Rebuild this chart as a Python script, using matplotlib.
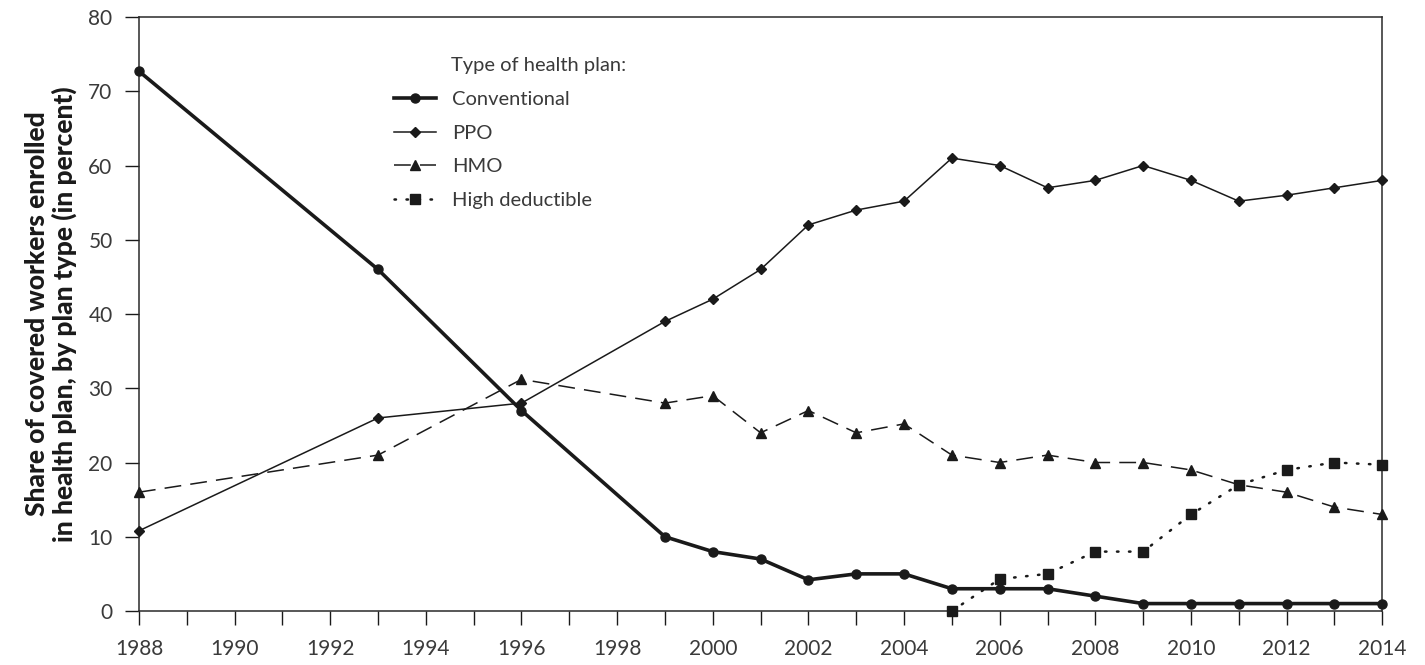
import numpy as np
import matplotlib.pyplot as plt

plt.rcParams['font.family'] = ['Lato', 'DejaVu Sans']

years = [1988, 1993, 1996, 1999, 2000, 2001, 2002, 2003, 2004, 2005,
         2006, 2007, 2008, 2009, 2010, 2011, 2012, 2013, 2014]
conventional = [72.7, 46, 27, 10, 8, 7, 4.2, 5, 5, 3, 3, 3, 2, 1, 1, 1, 1, 1, 1]
ppo = [10.8, 26, 28, 39, 42, 46, 52, 54, 55.2, 61, 60, 57, 58, 60, 58, 55.2, 56, 57, 58]
hmo = [16, 21, 31.2, 28, 29, 24, 27, 24, 25.2, 21, 20, 21, 20, 20, 19, 17, 16, 14, 13]
hd_years = [2005, 2006, 2007, 2008, 2009, 2010, 2011, 2012, 2013, 2014]
high_deductible = [0, 4.3, 5, 8, 8, 13, 17, 19, 20, 19.7]

fig = plt.figure(figsize=(14.25, 6.65), dpi=100)
ax = fig.add_axes([0.0975, 0.0812, 0.8725, 0.8932])

ax.plot(years, conventional, '-', color='#1a1a1a', lw=2.6, marker='o', ms=6.5,
        label='Conventional', clip_on=False, zorder=5)
ax.plot(years, ppo, '-', color='#1a1a1a', lw=1.1, marker='D', ms=5.5,
        label='PPO', clip_on=False, zorder=4)
ax.plot(years, hmo, color='#1a1a1a', lw=1.1, dashes=(11, 6), marker='^', ms=7.5,
        label='HMO', clip_on=False, zorder=4)
ax.plot(hd_years, high_deductible, color='#1a1a1a', lw=1.8, dashes=(0.6, 4.2),
        dash_capstyle='round', marker='s', ms=7, label='High deductible',
        clip_on=False, zorder=6)

ax.set_xlim(1988, 2014)
ax.set_ylim(0, 80)
ax.set_xticks(np.arange(1988, 2015, 2))
ax.set_xticks(np.arange(1988, 2015, 1), minor=True)
ax.set_yticks(np.arange(0, 81, 10))
ax.tick_params(axis='both', which='both', direction='out', length=10, width=1,
               color='#1a1a1a', labelsize=15, labelcolor='#3a3a3a')
ax.tick_params(axis='x', pad=10)
ax.tick_params(axis='y', pad=9)
for s in ax.spines.values():
    s.set_color('#2a2a2a')
    s.set_linewidth(1.1)

ax.set_ylabel('Share of covered workers enrolled\nin health plan, by plan type (in percent)',
              fontsize=19, fontweight='black', color='#1a1a1a', labelpad=8,
              linespacing=1.15)

leg = ax.legend(loc='upper left', bbox_to_anchor=(0.199, 0.889), frameon=False,
                fontsize=14.5, handlelength=2.05, handletextpad=0.8,
                labelspacing=0.82, labelcolor='#3a3a3a', borderaxespad=0)
fig.text(451 / 1425, 1 - 65 / 665, 'Type of health plan:', fontsize=14.5,
         color='#3a3a3a', ha='left', va='center')

fig.savefig('out.png', dpi=100)
